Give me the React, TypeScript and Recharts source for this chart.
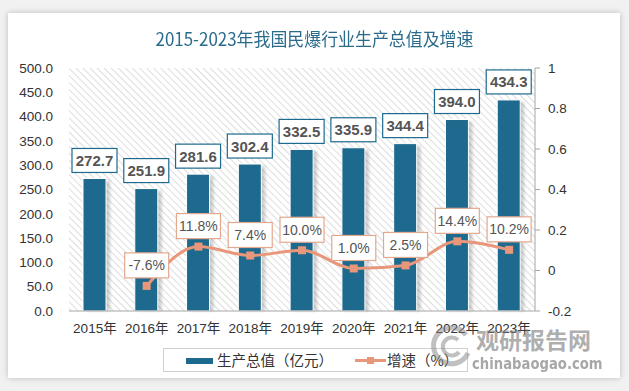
import { ComposedChart, Bar, Line, XAxis, YAxis, CartesianGrid, LabelList } from "recharts"

const years = ["2015年", "2016年", "2017年", "2018年", "2019年", "2020年", "2021年", "2022年", "2023年"]
const output = [272.7, 251.9, 281.6, 302.4, 332.5, 335.9, 344.4, 394.0, 434.3]
const growth = [null, -7.6, 11.8, 7.4, 10.0, 1.0, 2.5, 14.4, 10.2]
const leftTicks = [0, 50, 100, 150, 200, 250, 300, 350, 400, 450, 500]
const rightTicks = [-0.2, 0, 0.2, 0.4, 0.6, 0.8, 1]

const BLUE = "#1d6a8e"
const ORANGE = "#e8977a"

const data = years.map((year, i) => ({
  year,
  output: output[i],
  growth: growth[i] == null ? null : growth[i] / 100,
}))

const BarLabel = (props: any) => {
  const { x, y, width, value } = props
  const cx = x + width / 2
  const w = 45
  const h = 24
  return (
    <g>
      <rect x={cx - w / 2} y={y - 6 - h} width={w} height={h} fill="#fff" stroke={BLUE} strokeWidth={1.2} />
      <text x={cx} y={y - 6 - h / 2 + 5.5} textAnchor="middle" fontSize={15} fontWeight={700} fill="#555"
        fontFamily="'Liberation Sans', Arial, sans-serif">
        {Number(value).toFixed(1)}
      </text>
    </g>
  )
}

const LineLabel = (props: any) => {
  const { x, y, index } = props
  const v = growth[index]
  if (v == null) return null
  const w = 44
  const h = 25
  return (
    <g>
      <rect x={x - w / 2} y={y - 8 - h} width={w} height={h} fill="#fff" stroke="#e3a98f" strokeWidth={1.2} />
      <text x={x} y={y - 8 - h / 2 + 5} textAnchor="middle" fontSize={14} fill="#555"
        fontFamily="'Liberation Sans', Arial, sans-serif">
        {v.toFixed(1)}%
      </text>
    </g>
  )
}

const SquareDot = (props: any) => {
  const { cx, cy } = props
  if (cx == null || cy == null || props.value == null) return null
  return <rect x={cx - 4} y={cy - 4} width={8} height={8} fill={ORANGE} />
}

const ShadowBar = (props: any) => {
  const { x, y, width, height } = props
  return (
    <g>
      <rect x={x + 3} y={y + 2} width={width + 1} height={height - 2} fill="#000" opacity={0.18} filter="url(#blurShadow)" />
      <rect x={x} y={y} width={width} height={height} fill={BLUE} stroke="#fff" strokeWidth={1} />
    </g>
  )
}

export default function App() {
  return (
    <div style={{ position: "relative", width: 629, height: 391, background: "#f1f1f1", overflow: "hidden" }}>
      <style>{`body{margin:0}`}</style>
      <svg width={0} height={0} style={{ position: "absolute" }}>
        <defs>
          <pattern id="hatch" width={5} height={5} patternUnits="userSpaceOnUse" patternTransform="rotate(-45)">
            <rect width={5} height={5} fill="#fff" />
            <line x1={0} y1={0} x2={0} y2={5} stroke="#cfcfcf" strokeWidth={1.4} />
          </pattern>
          <filter id="blurShadow" x="-50%" y="-10%" width="200%" height="120%">
            <feGaussianBlur stdDeviation={1.5} />
          </filter>
        </defs>
      </svg>
      <div style={{
        position: "absolute", left: 8, top: 13, width: 612, height: 365, background: "#fff",
        boxShadow: "0 0 6px rgba(0,0,0,0.22)",
      }} />
      <div style={{
        position: "absolute", left: 0, top: 26, width: 629, textAlign: "center", fontSize: 18,
        color: "#2a6b8c", fontFamily: "'Noto Sans CJK SC', sans-serif", lineHeight: "24px",
        transform: "scaleX(0.94)",
      }}>
        2015-2023年我国民爆行业生产总值及增速
      </div>
      <div style={{ position: "absolute", left: 0, top: 0 }}>
        <ComposedChart width={629} height={391} data={data}
          margin={{ top: 68, right: 34, bottom: 55, left: 9 }}
          barCategoryGap={0}>
          <CartesianGrid horizontal={false} vertical={false} fill="url(#hatch)" />
          <XAxis dataKey="year" tickLine={false} axisLine={{ stroke: "#a6a6a6" }} height={25} tickMargin={6}
            tick={{ fontSize: 13.5, fill: "#333", fontFamily: "'Liberation Sans', 'Noto Sans CJK SC', sans-serif" }}
            interval={0} />
          <YAxis yAxisId="left" domain={[0, 500]} ticks={leftTicks} width={60} axisLine={false} tickLine={false}
            tickSize={0} tickMargin={16} tickFormatter={(v: number) => v.toFixed(1)}
            tick={{ fontSize: 13.5, fill: "#333", fontFamily: "'Liberation Sans', Arial, sans-serif" }} />
          <YAxis yAxisId="right" orientation="right" domain={[-0.2, 1]} ticks={rightTicks} width={60}
            axisLine={{ stroke: "#a6a6a6" }} tickLine={{ stroke: "#a6a6a6" }} tickSize={5} tickMargin={8}
            tickFormatter={(v: number) => String(Math.round(v * 10) / 10)}
            tick={{ fontSize: 13.5, fill: "#333", fontFamily: "'Liberation Sans', Arial, sans-serif" }} />
          <Bar yAxisId="left" dataKey="output" barSize={23} fill={BLUE} shape={ShadowBar} isAnimationActive={false}>
            <LabelList dataKey="output" content={BarLabel} />
          </Bar>
          <Line yAxisId="right" dataKey="growth" type="monotone" stroke={ORANGE} strokeWidth={3}
            dot={SquareDot} activeDot={false} isAnimationActive={false}>
            <LabelList dataKey="growth" content={LineLabel} />
          </Line>
        </ComposedChart>
      </div>
      <div style={{
        position: "absolute", left: 163, top: 348, width: 305, height: 24, boxSizing: "border-box",
        border: "1px solid #d0d0d0", background: "#fff", fontFamily: "'Noto Sans CJK SC', sans-serif",
        fontSize: 14.5, color: "#333",
      }}>
        <div style={{ position: "absolute", left: 22, top: 9, width: 27, height: 6, background: BLUE }} />
        <div style={{ position: "absolute", left: 53, top: 0, lineHeight: "22px" }}>生产总值（亿元）</div>
        <div style={{ position: "absolute", left: 191, top: 10, width: 31, height: 3, background: ORANGE }} />
        <div style={{ position: "absolute", left: 203, top: 8, width: 7, height: 7, background: ORANGE }} />
        <div style={{ position: "absolute", left: 223, top: 0, lineHeight: "22px" }}>增速（%）</div>
      </div>
      <svg width={46} height={46} style={{ position: "absolute", left: 428, top: 323 }}>
        <path d="M 38 12 A 18 18 0 1 0 40 30" fill="none" stroke="rgba(130,130,130,0.5)" strokeWidth={5} />
        <path d="M 30 17 A 9 9 0 1 0 31 29" fill="none" stroke="rgba(130,130,130,0.5)" strokeWidth={4} />
      </svg>
      <div style={{
        position: "absolute", left: 476, top: 324, fontSize: 23, fontWeight: 700, color: "rgba(120,120,120,0.6)",
        fontFamily: "'Noto Sans CJK SC', sans-serif", lineHeight: "30px",
      }}>
        观研报告网
      </div>
      <div style={{
        position: "absolute", left: 472, top: 356, fontSize: 15, fontWeight: 700, color: "rgba(120,120,120,0.65)",
        fontFamily: "'DejaVu Sans', sans-serif", lineHeight: "16px", transform: "scaleX(0.88)", transformOrigin: "left",
      }}>
        chinabaogao.com
      </div>
    </div>
  )
}
